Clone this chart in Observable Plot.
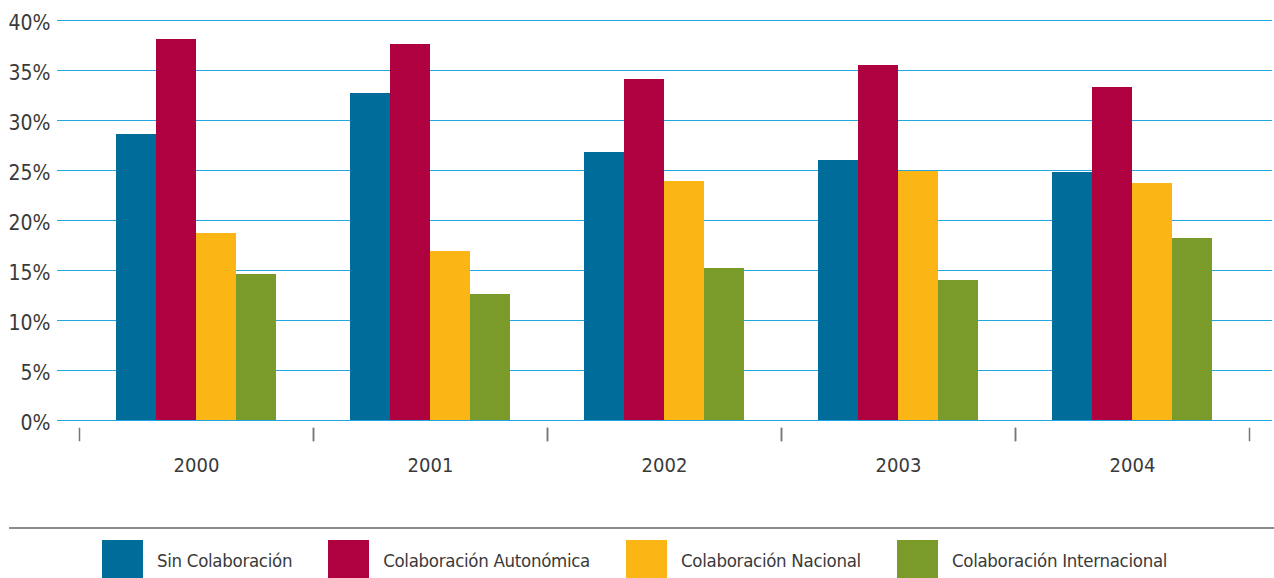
<!DOCTYPE html>
<html><head><meta charset="utf-8">
<script src="https://cdn.jsdelivr.net/npm/d3@7"></script>
<script src="https://cdn.jsdelivr.net/npm/@observablehq/plot@0.6"></script>
<style>
body{margin:0;background:#fff;font-family:"Liberation Sans Narrow","DejaVu Sans Condensed",sans-serif;}
#wrap{position:relative;width:1274px;height:578px;overflow:hidden}
#chart{position:absolute;left:0;top:0}
#rule{position:absolute;left:9px;right:0;top:527px;height:2px;background:#8c8c8c}
#legend{position:absolute;left:102px;top:540px;display:flex;gap:36px;white-space:nowrap}
.item{display:flex;align-items:center;gap:14px;font-size:18.5px;letter-spacing:-0.3px;color:#3a3a3a;height:41px;flex:none}
.sw{width:41px;height:41px;flex:none}
</style></head><body>
<div id="wrap"><div id="chart"></div><div id="rule"></div><div id="legend"></div></div>
<script>
const years = ["2000", "2001", "2002", "2003", "2004"];
const series = ["Sin Colaboración", "Colaboración Autonómica", "Colaboración Nacional", "Colaboración Internacional"];
const colors = ["#006c9a", "#af003f", "#fbb615", "#7a9a2a"];
const sinColaboracion = [28.6, 32.7, 26.8, 26.0, 24.8];
const autonomica = [38.1, 37.6, 34.1, 35.5, 33.3];
const nacional = [18.7, 16.9, 23.9, 24.9, 23.7];
const internacional = [14.6, 12.6, 15.2, 14.0, 18.2];
const yTicks = [0, 5, 10, 15, 20, 25, 30, 35, 40];

const valuesBySeries = [sinColaboracion, autonomica, nacional, internacional];
const rows = [];
years.forEach((yr, i) => series.forEach((s, j) => rows.push({year: yr, series: s, value: valuesBySeries[j][i]})));

const font = '"Liberation Sans Narrow","DejaVu Sans Condensed",sans-serif';
const chart = Plot.plot({
  width: 1274, height: 500,
  marginLeft: 77, marginRight: 23, marginTop: 20, marginBottom: 80,
  style: {fontFamily: font, fontSize: "21px", color: "#3a3a3a", background: "transparent"},
  fx: {domain: years, padding: 0, label: null},
  x: {domain: series, paddingInner: 0, paddingOuter: 0.86, axis: null},
  y: {domain: [0, 40], label: null},
  color: {domain: series, range: colors},
  marks: [
    Plot.ruleY(yTicks, {stroke: "#22a8e0", strokeWidth: 1.5, insetLeft: -22, insetRight: -23, shapeRendering: "crispEdges"}),
    Plot.barY(rows, {fx: "year", x: "series", y: "value", fill: "series", insetLeft: 0, insetRight: 0}),
    Plot.frame({anchor: "left", stroke: "#777", strokeWidth: 1.5, insetTop: 408, insetBottom: -20}),
    Plot.frame({anchor: "right", stroke: "#777", strokeWidth: 1.5, insetTop: 408, insetBottom: -20}),
    Plot.axisY(yTicks, {tickSize: 0, tickPadding: 29, tickFormat: d => d + "%", fontSize: 21, dy: 3, label: null}),
    Plot.axisFx({anchor: "bottom", tickSize: 0, tickPadding: 37, fontSize: 20, label: null})
  ]
});
document.getElementById("chart").appendChild(chart);

const legend = document.getElementById("legend");
series.forEach((s, j) => {
  const it = document.createElement("div");
  it.className = "item";
  const sw = document.createElement("div");
  sw.className = "sw";
  sw.style.background = colors[j];
  const t = document.createElement("span");
  t.textContent = s;
  it.appendChild(sw); it.appendChild(t);
  legend.appendChild(it);
});
</script>
</body></html>
